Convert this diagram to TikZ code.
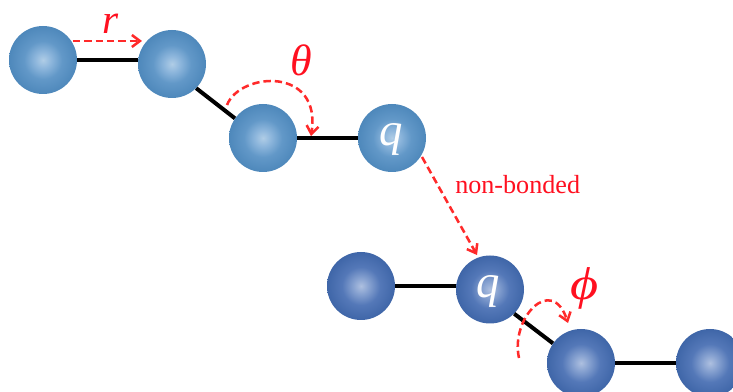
\documentclass[tikz,border=0pt]{standalone}
\usepackage{fontspec}
\usepackage{graphicx}
\setmainfont{Liberation Serif}
\usetikzlibrary{arrows.meta}
\definecolor{lc}{HTML}{B0CDE6}
\definecolor{lm}{HTML}{8DB6DC}
\definecolor{ln}{HTML}{6298C8}
\definecolor{le}{HTML}{4E88BB}
\definecolor{dc}{HTML}{AEC0E0}
\definecolor{dm}{HTML}{86A1D0}
\definecolor{dn}{HTML}{5478B8}
\definecolor{de}{HTML}{3F66A8}
\definecolor{arrowred}{HTML}{FF2A2A}
\definecolor{textred}{HTML}{FF1020}
\pgfdeclareradialshading{lightball}{\pgfpoint{0bp}{0bp}}{color(0bp)=(lc); color(6bp)=(lm); color(14bp)=(ln); color(25bp)=(le); color(50bp)=(le)}
\pgfdeclareradialshading{darkball}{\pgfpoint{0bp}{0bp}}{color(0bp)=(dc); color(6bp)=(dm); color(14bp)=(dn); color(25bp)=(de); color(50bp)=(de)}
\tikzset{
  ball/.style={circle,inner sep=0pt,minimum size=51pt},
  lball/.style={ball,shading=lightball},
  dball/.style={ball,shading=darkball},
  qlab/.style={inner sep=0pt,anchor=base,text=white,font=\fontsize{35}{35}\selectfont\itshape},
  bond/.style={draw=black,line width=3pt},
  redarrow/.style={draw=arrowred,line width=1.9pt,dash pattern=on 5.5pt off 3pt,-{Straight Barb[length=6pt,width=9pt,line width=1.9pt]}},
  lab/.style={text=textred,inner sep=0pt,anchor=base,font=\fontsize{33}{33}\selectfont\itshape},
}
\begin{document}
\begin{tikzpicture}[x=0.75pt,y=-0.75pt]
\useasboundingbox (0,0) rectangle (733,392);
\clip (0,0) rectangle (733,392);
\node[lball] (a) at (43,60) {};
\node[lball] (b) at (172,64) {};
\node[lball] (c) at (263,138) {};
\node[lball] (d) at (392,138) {};
\node[dball] (e) at (361,286) {};
\node[dball] (f) at (490,289.5) {};
\node[dball] (g) at (581,363) {};
\node[dball] (h) at (710,363) {};
\node[qlab] (dq) at (391.5,145.5) {q};
\node[qlab] (fq) at (488.5,297.5) {q};
\draw[bond] (a) -- (a-|b.west);
\draw[bond] (b.-45) -- (c.145);
\draw[bond] (c) -- (d);
\draw[bond] (e) -- (e-|f.west);
\draw[bond] (f.-45) -- (g.145);
\draw[bond] (g) -- (h);
\coordinate (r1) at (73,41);
\coordinate (r2) at (142,41);
\coordinate (t1) at (227,105);
\coordinate (t2) at (311,136);
\coordinate (n1) at (422,157);
\coordinate (n2) at (477,255);
\coordinate (p1) at (519,358);
\coordinate (p2) at (568,323);
\draw[redarrow] (r1) -- (r2);
\draw[redarrow] (t1) .. controls (240,72) and (322,66) .. (t2);
\draw[redarrow] (n1) -- (n2);
\draw[redarrow] (p1) .. controls (510,318) and (552,274) .. (p2);
\node[lab,font=\fontsize{31}{31}\selectfont\itshape] (rl) at (110.5,34) {r};
\node[lab] (tl) at (301.5,75.5) {θ};
\node[lab,font=\fontsize{34.5}{34.5}\selectfont\itshape] (pl) at (585,299.5) {\scalebox{1.18}[1]{ϕ}};
\node[text=textred,inner sep=0pt,anchor=base west,font=\fontsize{19.6}{20}\selectfont] (nb) at (455,194) {non-bonded};
\end{tikzpicture}
\end{document}
